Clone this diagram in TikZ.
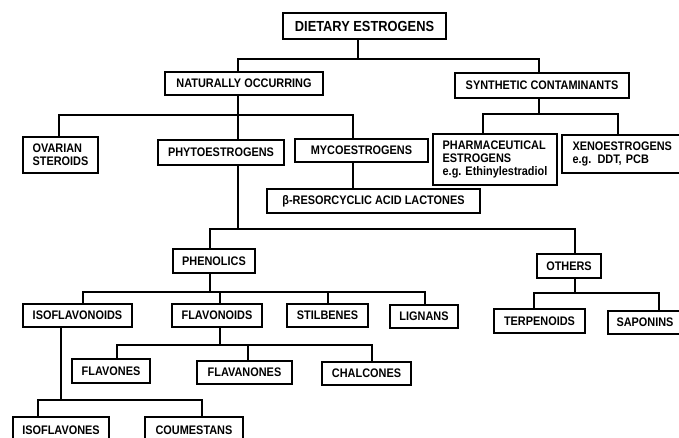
\documentclass[tikz,border=0pt]{standalone}
\usepackage{fontspec}
\setmainfont[FakeStretch=0.88]{Liberation Sans}
\begin{document}
\begin{tikzpicture}[x=1pt,y=-1pt,
  box/.style={draw, line width=1.6pt, inner sep=0pt, align=left,
    font=\fontsize{12.4}{13.3}\selectfont\bfseries},
  conn/.style={line width=1.4pt}]
\clip (0,0) rectangle (679,437);
\useasboundingbox (0,0) rectangle (679,437);
% nodes
\node[box, minimum width=163pt, minimum height=26pt, font=\fontsize{14.6}{15}\selectfont\bfseries] (diet) at (364.5,26) {DIETARY ESTROGENS};
\node[box, minimum width=158pt, minimum height=23pt] (nat) at (244,83.5) {NATURALLY OCCURRING};
\node[box, minimum width=174pt, minimum height=25pt] (syn) at (542,85.5) {SYNTHETIC CONTAMINANTS};
\node[box, minimum width=75pt, minimum height=36pt] (ova) at (60.5,155) {OVARIAN\\STEROIDS};
\node[box, minimum width=126pt, minimum height=25pt] (phy) at (221,152.5) {PHYTOESTROGENS};
\node[box, minimum width=133pt, minimum height=23pt] (myc) at (361.5,150.5) {MYCOESTROGENS};
\node[box, minimum width=213pt, minimum height=24pt] (res) at (373.5,201) {β-RESORCYCLIC ACID LACTONES};
\node[box, minimum width=124pt, minimum height=51pt] (pha) at (495,159.5) {PHARMACEUTICAL\\ESTROGENS\\e.g. Ethinylestradiol};
\node[box, minimum width=122pt, minimum height=38pt, text width=101pt] (xen) at (623,154) {XENOESTROGENS\\e.g. DDT, PCB};
\node[box, minimum width=82pt, minimum height=24pt] (phe) at (214,261) {PHENOLICS};
\node[box, minimum width=64pt, minimum height=24pt] (oth) at (569,266) {OTHERS};
\node[box, minimum width=109pt, minimum height=23pt] (isd) at (77.5,315.5) {ISOFLAVONOIDS};
\node[box, minimum width=90pt, minimum height=23pt] (fld) at (217,315.5) {FLAVONOIDS};
\node[box, minimum width=81pt, minimum height=23pt] (sti) at (327.5,315.5) {STILBENES};
\node[box, minimum width=68pt, minimum height=23pt] (lig) at (424,316.5) {LIGNANS};
\node[box, minimum width=91pt, minimum height=24pt] (ter) at (539.5,321) {TERPENOIDS};
\node[box, minimum width=75pt, minimum height=23pt, text width=58pt] (sap) at (645.5,322.5) {SAPONINS};
\node[box, minimum width=78pt, minimum height=24pt] (fvs) at (111,371) {FLAVONES};
\node[box, minimum width=95pt, minimum height=23pt] (fvn) at (244.5,372.5) {FLAVANONES};
\node[box, minimum width=89pt, minimum height=23pt] (cha) at (366.5,373.5) {CHALCONES};
\node[box, minimum width=96pt, minimum height=26pt, anchor=north] (ifv) at (61,416) {\raisebox{-2pt}{ISOFLAVONES}};
\node[box, minimum width=98pt, minimum height=26pt, anchor=north] (cou) at (194,416) {\raisebox{-2pt}{COUMESTANS}};
% bus points
\coordinate (bDiet) at (358,59);
\coordinate (bNat) at (238,115);
\coordinate (bSyn) at (539,114);
\coordinate (bPhy) at (238,229);
\coordinate (bPhe) at (210,292);
\coordinate (bOth) at (575,293);
\coordinate (bFld) at (220,345);
\coordinate (bIsd) at (61,400);
\coordinate (kMyc) at (353,0);
% connectors
\draw[conn] (diet.south -| bDiet) -- (bDiet);
\draw[conn] (bDiet) -| ([xshift=-6pt]nat.north);
\draw[conn] (bDiet) -| ([xshift=-3pt]syn.north);
\draw[conn] (nat.south -| bNat) -- (bNat);
\draw[conn] (bNat) -| ([xshift=-1.5pt]ova.north);
\draw[conn] (bNat) -| ([xshift=17pt]phy.north);
\draw[conn] (bNat) -| ([xshift=-8.5pt]myc.north);
\draw[conn] (myc.south -| kMyc) -- (res.north -| kMyc);
\draw[conn] (syn.south -| bSyn) -- (bSyn);
\draw[conn] (bSyn) -| ([xshift=-12pt]pha.north);
\draw[conn] (bSyn) -| ([xshift=-5pt]xen.north);
\draw[conn] (phy.south -| bPhy) -- (bPhy);
\draw[conn] (bPhy) -| ([xshift=-4pt]phe.north);
\draw[conn] (bPhy) -| ([xshift=6pt]oth.north);
\draw[conn] (phe.south -| bPhe) -- (bPhe);
\draw[conn] (bPhe) -| ([xshift=5.5pt]isd.north);
\draw[conn] (bPhe) -| ([xshift=3pt]fld.north);
\draw[conn] (bPhe) -| ([xshift=0.5pt]sti.north);
\draw[conn] (bPhe) -| ([xshift=1pt]lig.north);
\draw[conn] (oth.south -| bOth) -- (bOth);
\draw[conn] (bOth) -| ([xshift=-5.5pt]ter.north);
\draw[conn] (bOth) -| ([xshift=13.5pt]sap.north);
\draw[conn] (fld.south -| bFld) -- (bFld);
\draw[conn] (bFld) -| ([xshift=6pt]fvs.north);
\draw[conn] (bFld) -| ([xshift=3.5pt]fvn.north);
\draw[conn] (bFld) -| ([xshift=5.5pt]cha.north);
\draw[conn] (isd.south -| bIsd) -- (bIsd);
\draw[conn] (bIsd) -| ([xshift=-23pt]ifv.north);
\draw[conn] (bIsd) -| ([xshift=8pt]cou.north);
\end{tikzpicture}
\end{document}
